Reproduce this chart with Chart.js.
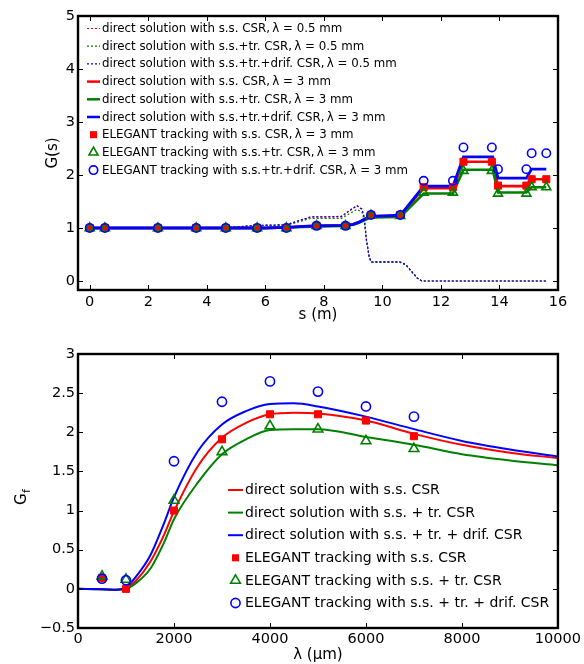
<!DOCTYPE html>
<html><head><meta charset="utf-8">
<script src="https://cdn.jsdelivr.net/npm/chart.js@4.4.1/dist/chart.umd.min.js"></script>
<style>
html,body{margin:0;padding:0;background:#fff;}
#wrap{position:relative;width:584px;height:664px;overflow:hidden;}
.box{position:absolute;left:0;width:584px;}
</style></head><body>
<div id="wrap">
<div class="box" style="top:0;height:330px"><canvas id="c1" width="584" height="330"></canvas></div>
<div class="box" style="top:330px;height:334px"><canvas id="c2" width="584" height="334"></canvas></div>
</div>
<script>
// ---------- TOP PANEL DATA: G(s) vs s (m) ----------
const topXTicks = [0, 2, 4, 6, 8, 10, 12, 14, 16];
const topYTicks = [0, 1, 2, 3, 4, 5];

// dashed, lambda = 0.5 mm
const sDash      = [0, 4.65, 5.0, 5.72, 6.72, 7.1, 7.55, 8.0, 8.6, 8.9, 9.13, 9.3, 9.38, 9.45, 9.55, 9.62, 10.6, 10.8, 11.0, 11.2, 11.35, 15.6];
const gDashSS    = [1.0, 1.0, 1.02, 1.05, 1.06, 1.13, 1.21, 1.21, 1.21, 1.33, 1.42, 1.35, 1.2, 0.8, 0.45, 0.36, 0.36, 0.31, 0.18, 0.05, 0.0, 0.0];
const gDashSSTr  = [1.0, 1.0, 1.02, 1.04, 1.05, 1.11, 1.18, 1.18, 1.18, 1.28, 1.35, 1.30, 1.15, 0.78, 0.44, 0.35, 0.35, 0.30, 0.17, 0.05, 0.0, 0.0];
const gDashAll   = [1.0, 1.0, 1.02, 1.05, 1.06, 1.13, 1.21, 1.21, 1.22, 1.34, 1.42, 1.36, 1.2, 0.8, 0.45, 0.36, 0.36, 0.31, 0.18, 0.05, 0.0, 0.0];

// solid, lambda = 3 mm
const sSolid     = [0, 5.0, 6.0, 6.72, 7.3, 7.75, 8.74, 9.0, 9.2, 9.4, 9.61, 10.61, 11.41, 12.41, 12.77, 13.77, 13.95, 14.92, 15.1, 15.6];
const gSolidSS   = [1.0, 1.0, 1.0, 1.01, 1.03, 1.04, 1.05, 1.07, 1.11, 1.17, 1.22, 1.23, 1.75, 1.75, 2.25, 2.25, 1.79, 1.79, 1.92, 1.92];
const gSolidSSTr = [1.0, 1.0, 1.0, 1.01, 1.02, 1.03, 1.04, 1.06, 1.10, 1.15, 1.20, 1.21, 1.65, 1.65, 2.10, 2.10, 1.67, 1.67, 1.77, 1.77];
const gSolidAll  = [1.0, 1.0, 1.0, 1.01, 1.03, 1.04, 1.05, 1.07, 1.11, 1.17, 1.22, 1.24, 1.79, 1.79, 2.34, 2.34, 1.94, 1.94, 2.11, 2.11];

// ELEGANT tracking, lambda = 3 mm
const sTrack     = [0, 0.52, 2.33, 3.64, 4.65, 5.72, 6.72, 7.75, 8.74, 9.61, 10.61, 11.41, 12.41, 12.77, 13.74, 13.95, 14.92, 15.1, 15.6];
const gTrackSS   = [1.0, 1.0, 1.0, 1.0, 1.0, 1.0, 1.0, 1.04, 1.04, 1.245, 1.245, 1.77, 1.77, 2.25, 2.25, 1.80, 1.80, 1.92, 1.92];
const gTrackSSTr = [1.0, 1.0, 1.0, 1.0, 1.0, 1.0, 1.0, 1.04, 1.04, 1.24, 1.23, 1.67, 1.67, 2.08, 2.08, 1.65, 1.65, 1.77, 1.77];
const gTrackAll  = [1.0, 1.0, 1.0, 1.0, 1.0, 1.0, 1.0, 1.04, 1.04, 1.245, 1.245, 1.89, 1.89, 2.52, 2.52, 2.11, 2.11, 2.41, 2.41];

const topLabels = [
  'direct solution with s.s. CSR,\u2009\u03bb = 0.5 mm',
  'direct solution with s.s.+tr. CSR,\u2009\u03bb = 0.5 mm',
  'direct solution with s.s.+tr.+drif. CSR,\u2009\u03bb = 0.5 mm',
  'direct solution with s.s. CSR,\u2009\u03bb = 3 mm',
  'direct solution with s.s.+tr. CSR,\u2009\u03bb = 3 mm',
  'direct solution with s.s.+tr.+drif. CSR,\u2009\u03bb = 3 mm',
  'ELEGANT tracking with s.s. CSR,\u2009\u03bb = 3 mm',
  'ELEGANT tracking with s.s.+tr. CSR,\u2009\u03bb = 3 mm',
  'ELEGANT tracking with s.s.+tr.+drif. CSR,\u2009\u03bb = 3 mm'
];

// ---------- BOTTOM PANEL DATA: G_f vs lambda (um) ----------
const botXTicks = [0, 2000, 4000, 6000, 8000, 10000];
const botYTicks = [-0.5, 0, 0.5, 1, 1.5, 2, 2.5, 3];

const lamCurve   = [0, 500, 800, 1000, 1200, 1500, 1800, 2000, 2500, 3000, 3500, 4000, 4500, 5000, 6000, 7000, 8000, 9000, 10000];
const gfCurveSS  = [0, -0.005, -0.01, 0.01, 0.10, 0.34, 0.70, 0.99, 1.57, 1.93, 2.12, 2.23, 2.25, 2.24, 2.15, 1.98, 1.84, 1.74, 1.67];
const gfCurveSSTr= [0, -0.005, -0.01, 0.0, 0.07, 0.25, 0.60, 0.89, 1.36, 1.72, 1.91, 2.03, 2.04, 2.04, 1.94, 1.84, 1.72, 1.64, 1.58];
const gfCurveAll = [0, -0.005, -0.01, 0.02, 0.15, 0.42, 0.85, 1.17, 1.76, 2.10, 2.27, 2.36, 2.37, 2.33, 2.20, 2.04, 1.89, 1.78, 1.69];

const lamTrack   = [500, 1000, 2000, 3000, 4000, 5000, 6000, 7000];
const gfTrackSS  = [0.135, 0.0, 1.0, 1.91, 2.23, 2.23, 2.15, 1.95];
const gfTrackSSTr= [0.16, 0.12, 1.13, 1.75, 2.08, 2.04, 1.89, 1.79];
const gfTrackAll = [0.13, 0.11, 1.63, 2.39, 2.65, 2.52, 2.33, 2.20];

const botLabels = [
  'direct solution with s.s. CSR',
  'direct solution with s.s. + tr. CSR',
  'direct solution with s.s. + tr. + drif. CSR',
  'ELEGANT tracking with s.s. CSR',
  'ELEGANT tracking with s.s. + tr. CSR',
  'ELEGANT tracking with s.s. + tr. + drif. CSR'
];

// ---------- styling ----------
const RED = '#ff0000', GREEN = '#008000', BLUE = '#0000ff';
const FAM = '"DejaVu Sans", Verdana, sans-serif';
Chart.defaults.font.family = FAM;
Chart.defaults.color = '#000';

const pts = (xs, ys) => xs.map((x, i) => ({x: x, y: ys[i]}));

function lineDS(label, xs, ys, color, width, dash) {
  return {label, data: pts(xs, ys), showLine: true, borderColor: color, backgroundColor: color,
    borderWidth: width, borderDash: dash || [], pointRadius: 0, pointHoverRadius: 0, tension: 0,
    _kind: 'line'};
}
function markDS(label, xs, ys, color, style, r, filled) {
  return {label, data: pts(xs, ys), showLine: false, pointStyle: style, pointRadius: r, pointHoverRadius: r,
    borderColor: color, backgroundColor: filled ? color : 'rgba(0,0,0,0)', pointBorderWidth: filled ? 1 : 1.6,
    borderWidth: filled ? 1 : 1.6, _kind: 'mark'};
}
function setOrder(dsList) { dsList.forEach((d, i) => d.order = dsList.length - i); return dsList; }

function drawMarker(ctx, style, x, y, r, color, filled, lw) {
  ctx.save();
  ctx.strokeStyle = color; ctx.fillStyle = color; ctx.lineWidth = lw;
  ctx.beginPath();
  if (style === 'rect') {
    const s = Math.SQRT1_2 * r; ctx.rect(x - s, y - s, 2 * s, 2 * s);
  } else if (style === 'triangle') {
    ctx.moveTo(x, y - r); ctx.lineTo(x + r * 0.866, y + r * 0.5); ctx.lineTo(x - r * 0.866, y + r * 0.5); ctx.closePath();
  } else {
    ctx.arc(x, y, r, 0, Math.PI * 2);
  }
  if (filled) ctx.fill(); else ctx.stroke();
  ctx.restore();
}

const framePlugin = {
  id: 'frame',
  afterDraw(chart) {
    const {ctx, chartArea: {left, right, top, bottom}} = chart;
    const xs = chart.scales.x, ys = chart.scales.y, L = 5;
    ctx.save();
    ctx.strokeStyle = '#000'; ctx.lineWidth = 1;
    ctx.beginPath();
    xs.ticks.forEach(t => { const p = Math.round(xs.getPixelForValue(t.value)) + 0.5;
      ctx.moveTo(p, bottom); ctx.lineTo(p, bottom - L); ctx.moveTo(p, top); ctx.lineTo(p, top + L); });
    ys.ticks.forEach(t => { const p = Math.round(ys.getPixelForValue(t.value)) + 0.5;
      ctx.moveTo(left, p); ctx.lineTo(left + L, p); ctx.moveTo(right, p); ctx.lineTo(right - L, p); });
    ctx.stroke();
    ctx.lineWidth = 2.4;
    ctx.strokeRect(left, top, right - left, bottom - top);
    ctx.restore();
  }
};

const legendPlugin = {
  id: 'boxLegend',
  afterDraw(chart, args, o) {
    const ctx = chart.ctx;
    ctx.save();
    ctx.font = o.size + 'px ' + FAM;
    ctx.textBaseline = 'middle'; ctx.fillStyle = '#000';
    chart.data.datasets.forEach((d, i) => {
      const y = o.y0 + i * o.dy;
      if (d._kind === 'line') {
        ctx.save(); ctx.strokeStyle = d.borderColor; ctx.lineWidth = Math.min(d.borderWidth, 2.5);
        ctx.setLineDash(d.borderDash); ctx.beginPath(); ctx.moveTo(o.x0, y); ctx.lineTo(o.x0 + o.w, y); ctx.stroke(); ctx.restore();
      } else {
        const filled = d.backgroundColor !== 'rgba(0,0,0,0)';
        drawMarker(ctx, d.pointStyle, o.x0 + o.w / 2, y, d.pointRadius, d.borderColor, filled, d.borderWidth);
      }
      ctx.fillStyle = '#000';
      ctx.fillText(d.label, o.x0 + o.w + o.gap, y + 0.5);
    });
    ctx.restore();
  }
};

const gfTitlePlugin = {
  id: 'gfTitle',
  afterDraw(chart, args, o) {
    if (!o.on) return;
    const ctx = chart.ctx;
    ctx.save();
    ctx.translate(o.x, o.y);
    ctx.rotate(-Math.PI / 2);
    ctx.fillStyle = '#000'; ctx.textBaseline = 'middle'; ctx.textAlign = 'left';
    ctx.font = '15px ' + FAM;
    const gw = ctx.measureText('G').width;
    ctx.fillText('G', -8, 0);
    ctx.font = '11px ' + FAM;
    ctx.fillText('f', -8 + gw + 0.5, 5);
    ctx.restore();
  }
};

function fixTicks(list) { return s => { s.ticks = list.map(v => ({value: v})); }; }
const fmt = v => String(v).replace('-', '\u2212');

// ---------- TOP CHART ----------
const topDatasets = setOrder([
  lineDS(topLabels[0], sDash, gDashSS, RED, 1.2, [2, 2]),
  lineDS(topLabels[1], sDash, gDashSSTr, GREEN, 1.2, [2, 2]),
  lineDS(topLabels[2], sDash, gDashAll, BLUE, 1.2, [2, 2]),
  lineDS(topLabels[3], sSolid, gSolidSS, RED, 2.6),
  lineDS(topLabels[4], sSolid, gSolidSSTr, GREEN, 2.6),
  lineDS(topLabels[5], sSolid, gSolidAll, BLUE, 2.8),
  markDS(topLabels[6], sTrack, gTrackSS, RED, 'rect', 5, true),
  markDS(topLabels[7], sTrack, gTrackSSTr, GREEN, 'triangle', 5.2, false),
  markDS(topLabels[8], sTrack, gTrackAll, BLUE, 'circle', 4.2, false)
]);

new Chart(document.getElementById('c1'), {
  type: 'scatter',
  data: {datasets: topDatasets},
  options: {
    responsive: false, animation: false,
    layout: {padding: {left: 0, right: 26, top: 16, bottom: 0}},
    plugins: {legend: {display: false}, tooltip: {enabled: false},
      boxLegend: {x0: 87, y0: 28.5, dy: 17.7, w: 13, gap: 2, size: 11.8},
      gfTitle: {on: false}},
    scales: {
      x: {type: 'linear', min: -0.4, max: 16, afterBuildTicks: fixTicks(topXTicks), afterFit: s => { s.height = 40; },
        grid: {display: false, drawTicks: false}, border: {display: false},
        ticks: {font: {size: 14.5}, color: '#000', padding: 4, maxRotation: 0, autoSkip: false, callback: fmt},
        title: {display: true, text: 's (m)', font: {size: 15}, color: '#000', padding: {top: 0, bottom: 6}}},
      y: {type: 'linear', min: -0.17, max: 5, afterBuildTicks: fixTicks(topYTicks), afterFit: s => { s.width = 78; },
        grid: {display: false, drawTicks: false}, border: {display: false},
        ticks: {font: {size: 14.5}, color: '#000', padding: 3, autoSkip: false, callback: fmt},
        title: {display: true, text: 'G(s)', font: {size: 15}, color: '#000', padding: {top: 44, bottom: 0}}}
    }
  },
  plugins: [framePlugin, legendPlugin, gfTitlePlugin]
});

// ---------- BOTTOM CHART ----------
const botDatasets = setOrder([
  lineDS(botLabels[0], lamCurve, gfCurveSS, RED, 2),
  lineDS(botLabels[1], lamCurve, gfCurveSSTr, GREEN, 2),
  lineDS(botLabels[2], lamCurve, gfCurveAll, BLUE, 2),
  markDS(botLabels[3], lamTrack, gfTrackSS, RED, 'rect', 5, true),
  markDS(botLabels[4], lamTrack, gfTrackSSTr, GREEN, 'triangle', 5.6, false),
  markDS(botLabels[5], lamTrack, gfTrackAll, BLUE, 'circle', 4.6, false)
]);
botDatasets.slice(0, 3).forEach(d => { d.cubicInterpolationMode = 'monotone'; });

new Chart(document.getElementById('c2'), {
  type: 'scatter',
  data: {datasets: botDatasets},
  options: {
    responsive: false, animation: false,
    layout: {padding: {left: 0, right: 26, top: 24, bottom: 0}},
    plugins: {legend: {display: false}, tooltip: {enabled: false},
      boxLegend: {x0: 228, y0: 160, dy: 22.6, w: 15, gap: 2, size: 14},
      gfTitle: {on: true, x: 22, y: 167}},
    scales: {
      x: {type: 'linear', min: 0, max: 10000, afterBuildTicks: fixTicks(botXTicks), afterFit: s => { s.height = 36; },
        grid: {display: false, drawTicks: false}, border: {display: false},
        ticks: {font: {size: 14.5}, color: '#000', padding: 3, maxRotation: 0, autoSkip: false, callback: fmt},
        title: {display: true, text: '\u03bb (\u03bcm)', font: {size: 15}, color: '#000', padding: {top: 0, bottom: 0}}},
      y: {type: 'linear', min: -0.5, max: 3, afterBuildTicks: fixTicks(botYTicks), afterFit: s => { s.width = 78; },
        grid: {display: false, drawTicks: false}, border: {display: false},
        ticks: {font: {size: 14.5}, color: '#000', padding: 3, autoSkip: false, callback: fmt},
        title: {display: false}}
    }
  },
  plugins: [framePlugin, legendPlugin, gfTitlePlugin]
});
</script>
</body></html>
